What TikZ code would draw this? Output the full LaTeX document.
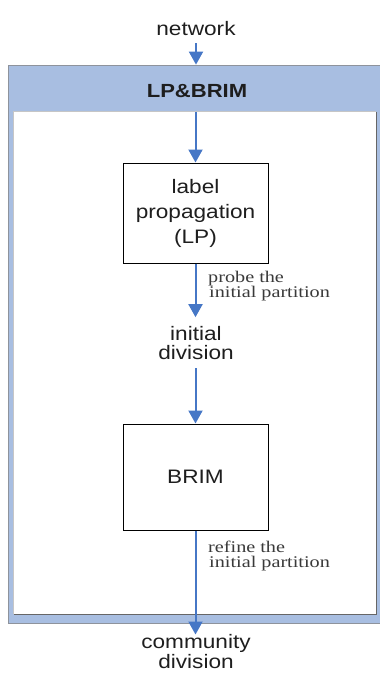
\documentclass[tikz,border=0pt]{standalone}
\usepackage{fontspec}
\usetikzlibrary{arrows.meta}
\newfontfamily\labelsans[FakeStretch=1.16]{Liberation Sans}
\newfontfamily\noteserif[FakeStretch=1.24]{Liberation Serif}
\definecolor{flowblue}{HTML}{4677C6}
\definecolor{bandblue}{HTML}{A8BEE1}
\definecolor{framegray}{HTML}{8E939C}
\definecolor{inkgray}{HTML}{1E1E1E}
\definecolor{notegray}{HTML}{3A3A3A}
\tikzset{
  flow/.style={draw=flowblue, line width=2pt, -{Triangle[width=14pt,length=13pt]}},
  txt/.style={inner sep=0pt, text=inkgray, font=\labelsans\fontsize{19.5}{19}\selectfont, align=center},
  stepbox/.style={draw=black, line width=1pt, fill=white, minimum width=145pt, inner sep=0pt,
    text=inkgray, font=\labelsans\fontsize{19.5}{25}\selectfont, align=center},
  note/.style={inner sep=0pt, text=notegray, font=\noteserif\fontsize{16.3}{15}\selectfont, align=left, anchor=north west}
}
\begin{document}
\begin{tikzpicture}[x=1pt,y=-1pt]
  \useasboundingbox (0,0) rectangle (380,673);
  % outer frame with blue title band
  \node[draw=framegray, line width=0.8pt, fill=bandblue, minimum width=372pt, minimum height=558pt, inner sep=0pt]
    (frame) at (194,344) {};
  % white working panel inside the frame
  \node[fill=white, minimum width=362pt, minimum height=502pt, inner sep=0pt] (panel) at (195,363) {};
  \draw[gray!45, line width=1pt] (panel.south west) -- (panel.north west) -- (panel.north east);
  \draw[black!60, line width=1.2pt] (panel.north east) -- (panel.south east) -- (panel.south west);
  \node[txt, font=\labelsans\bfseries\fontsize{19}{19}\selectfont, anchor=base] (title) at (197,97) {LP\&BRIM};

  % texts and boxes
  \node[txt, anchor=base] (net) at (196,35) {network};
  \node[stepbox, minimum height=100pt] (lp) at (195.5,213) {label\\propagation\\(LP)};
  \node[txt, anchor=base, font=\labelsans\fontsize{19.5}{18.5}\selectfont] (init) at (196,359) {initial\\division};
  \node[stepbox, minimum height=106pt] (brim) at (195.5,477) {BRIM};
  \node[txt, anchor=base, font=\labelsans\fontsize{19.5}{16}\selectfont] (comm) at (196,668) {community\\division};

  % notes beside the arrows
  \node[note] (probe) at (208,271) {probe the\\\hspace*{1pt}initial partition};
  \node[note] (refine) at (208,541) {refine the\\\hspace*{1pt}initial partition};

  % connectors
  \draw[flow] ([yshift=-8pt]net.south) -- (net.south |- frame.north);
  \draw[flow] (panel.north -| lp.north) -- (lp.north);
  \draw[flow, shorten >=9pt] (lp.south) -- (lp.south |- init.north);
  \draw[flow] ([yshift=-9pt]init.south -| brim.north) -- (brim.north);
  \draw[flow] (brim.south) -- (brim.south |- comm.north);
\end{tikzpicture}
\end{document}
